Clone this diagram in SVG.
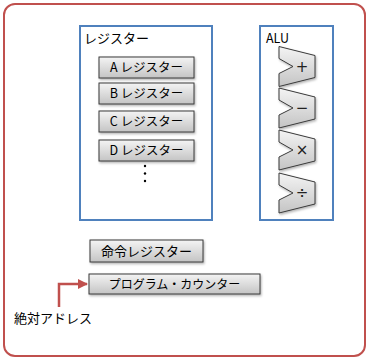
<svg xmlns="http://www.w3.org/2000/svg" width="370" height="360" viewBox="0 0 370 360">
<style>
.t{font-family:"Noto Sans CJK JP","Noto Sans",sans-serif;fill:#000}
.reg{fill:url(#g);stroke:#3a3a3a;stroke-width:1;filter:url(#sh)}
.grp{fill:#fff;stroke:#4f81bd;stroke-width:2}
.sym{font-family:"DejaVu Sans","Liberation Sans",sans-serif;font-size:15px;fill:#222;text-anchor:middle}
</style>
<defs>
<linearGradient id="g" x1="0" y1="0" x2="0" y2="1">
<stop offset="0" stop-color="#f4f4f4"/>
<stop offset="1" stop-color="#c4c4c4"/>
</linearGradient>
<filter id="sh" x="-10%" y="-10%" width="130%" height="140%">
<feDropShadow dx="1" dy="1.5" stdDeviation="0.8" flood-color="#000" flood-opacity="0.3"/>
</filter>
<marker id="ah" viewBox="0 0 10 10" refX="9" refY="5" markerWidth="4" markerHeight="4" orient="auto">
<path d="M0,0 L10,5 L0,10 Z" fill="#c0504d"/>
</marker>
<path id="chev" d="M0,0 L36,9 L36,31 L0,40 L0,27 L14,20 L0,12 Z"/>
</defs>
<rect x="4" y="4" width="361" height="352" rx="11" fill="#fff" stroke="#c0504d" stroke-width="2"/>
<g id="registers">
<rect class="grp" x="80" y="26" width="132" height="194"/>
<text class="t" x="84" y="43" font-size="13">レジスター</text>
</g>
<g id="regA"><rect class="reg" x="99" y="57" width="95" height="21"/><text class="t" x="146.5" y="72" font-size="12.5" text-anchor="middle">A レジスター</text></g>
<g id="regB"><rect class="reg" x="99" y="83" width="95" height="21"/><text class="t" x="146.5" y="98" font-size="12.5" text-anchor="middle">B レジスター</text></g>
<g id="regC"><rect class="reg" x="99" y="111" width="95" height="21"/><text class="t" x="146.5" y="126" font-size="12.5" text-anchor="middle">C レジスター</text></g>
<g id="regD"><rect class="reg" x="99" y="140" width="95" height="21"/><text class="t" x="146.5" y="155" font-size="12.5" text-anchor="middle">D レジスター</text></g>
<g id="dots" fill="#000"><circle cx="145" cy="166" r="1.2"/><circle cx="145" cy="173.5" r="1.2"/><circle cx="145" cy="181" r="1.2"/></g>
<g id="alu">
<rect class="grp" x="260" y="26" width="73" height="194"/>
<text class="t" x="266" y="43" font-size="12.5">ALU</text>
</g>
<g id="add"><use href="#chev" x="279" y="46.5" class="reg"/><text class="sym" x="302" y="71.5">+</text></g>
<g id="sub"><use href="#chev" x="279" y="88" class="reg"/><text class="sym" x="302" y="113">−</text></g>
<g id="mul"><use href="#chev" x="279" y="130" class="reg"/><text class="sym" x="302" y="155">×</text></g>
<g id="div"><use href="#chev" x="279" y="173" class="reg"/><text class="sym" x="302" y="198">÷</text></g>
<g id="ir"><rect class="reg" x="90" y="240" width="113" height="22"/><text class="t" x="146.5" y="256" font-size="13" text-anchor="middle">命令レジスター</text></g>
<g id="pc"><rect class="reg" x="89" y="274" width="171" height="20"/><text class="t" x="174.5" y="289" font-size="12" text-anchor="middle">プログラム・カウンター</text></g>
<g id="connectors">
<path d="M59,307 L59,284 L87,284" fill="none" stroke="#c0504d" stroke-width="2.5" marker-end="url(#ah)"/>
</g>
<g id="abs"><text class="t" x="14" y="323" font-size="13">絶対アドレス</text></g>
</svg>
